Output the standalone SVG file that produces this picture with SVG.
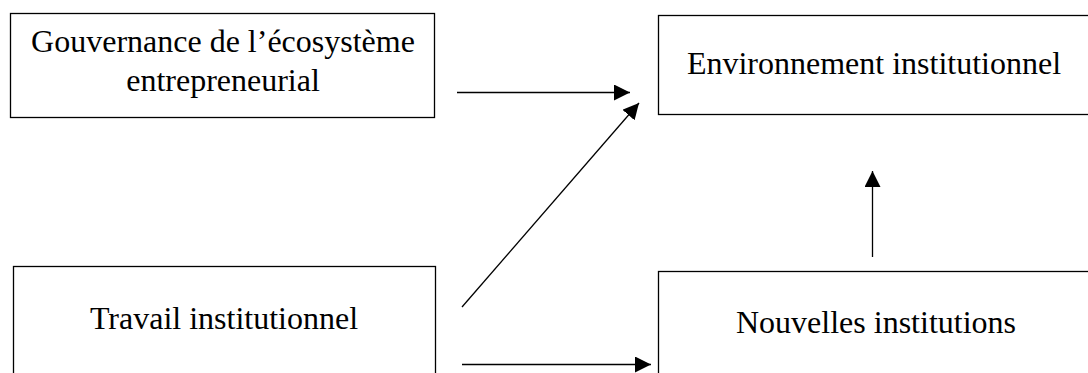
<svg xmlns="http://www.w3.org/2000/svg" width="1088" height="373" viewBox="0 0 1088 373">
<style>
.box{fill:#fff;stroke:#000;stroke-width:1.3}
.lbl{font-family:"Liberation Serif","Times New Roman",serif;font-size:32px;fill:#000;text-anchor:middle}
.con{stroke:#000;stroke-width:1.3;fill:none;marker-end:url(#ah)}
</style>
<defs>
<marker id="ah" markerUnits="userSpaceOnUse" markerWidth="16" markerHeight="16" refX="16" refY="8" orient="auto">
<path d="M0,0 L16,8 L0,16 Z" fill="#000"/>
</marker>
</defs>
<rect width="1088" height="373" fill="#fff"/>
<g id="n-gouvernance">
<rect class="box" x="10.5" y="13.5" width="424" height="104"/>
<text class="lbl" x="223" y="52">Gouvernance de l’écosystème</text>
<text class="lbl" x="223" y="91">entrepreneurial</text>
</g>
<g id="n-environnement">
<rect class="box" x="658.5" y="15.5" width="440" height="99"/>
<text class="lbl" x="874" y="74">Environnement institutionnel</text>
</g>
<g id="n-travail">
<rect class="box" x="13.5" y="266.5" width="422" height="120"/>
<text class="lbl" x="224" y="329">Travail institutionnel</text>
</g>
<g id="n-nouvelles">
<rect class="box" x="658.5" y="271.5" width="440" height="120"/>
<text class="lbl" x="876" y="333">Nouvelles institutions</text>
</g>
<g id="connectors">
<line class="con" x1="457" y1="92.5" x2="630" y2="92.5"/>
<line class="con" x1="462" y1="307" x2="639" y2="103"/>
<line class="con" x1="872.5" y1="257" x2="872.5" y2="171"/>
<line class="con" x1="462" y1="364.5" x2="651" y2="364.5"/>
</g>
</svg>
